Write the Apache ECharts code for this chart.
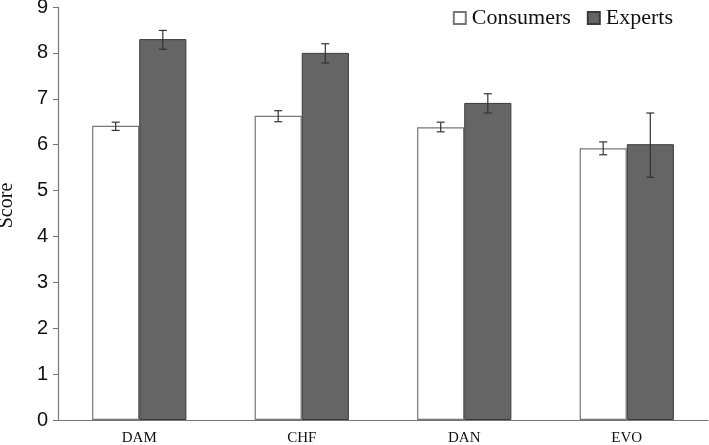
<!DOCTYPE html>
<html>
<head>
<meta charset="utf-8">
<script src="https://cdn.jsdelivr.net/npm/echarts@6/dist/echarts.min.js"></script>
<style>
html, body { margin: 0; padding: 0; background: #fff; }
#chart { width: 709px; height: 445px; }
</style>
</head>
<body>
<div id="chart"></div>
<script>
// data
const categories = ['DAM', 'CHF', 'DAN', 'EVO']
const consumers = [6.41, 6.63, 6.38, 5.92]
const consumersLow = [6.31, 6.50, 6.28, 5.78]
const consumersHigh = [6.49, 6.74, 6.49, 6.06]
const experts = [8.30, 8.00, 6.91, 6.01]
const expertsLow = [8.08, 7.78, 6.69, 5.29]
const expertsHigh = [8.49, 8.20, 7.11, 6.69]
const yTicks = [0, 1, 2, 3, 4, 5, 6, 7, 8, 9]

const chart = echarts.init(document.getElementById('chart'))

const barRatio = 0.29

// error bar drawer, side = -1 for left bar, +1 for right bar
function errorBar(side) {
  return function (params, api) {
    const idx = api.value(0)
    const lo = api.coord([idx, api.value(1)])
    const hi = api.coord([idx, api.value(2)])
    const band = api.size([1, 0])[0]
    const x = lo[0] + side * band * barRatio / 2
    const cap = 4
    const style = { stroke: '#333', lineWidth: 1.2 }
    return {
      type: 'group',
      children: [
        { type: 'line', shape: { x1: x, y1: lo[1], x2: x, y2: hi[1] }, style },
        { type: 'line', shape: { x1: x - cap, y1: lo[1], x2: x + cap, y2: lo[1] }, style },
        { type: 'line', shape: { x1: x - cap, y1: hi[1], x2: x + cap, y2: hi[1] }, style }
      ]
    }
  }
}

chart.setOption({
  animation: false,
  grid: { left: 58, right: 1, top: 7, bottom: 25, outerBoundsMode: 'none' },
  legend: {
    right: 31,
    top: 2,
    itemWidth: 12,
    itemHeight: 12,
    itemGap: 16,
    icon: 'rect',
    textStyle: { fontFamily: 'Liberation Serif', fontSize: 22, color: '#111', padding: [0, 0, 0, 1] },
    data: ['Consumers', 'Experts']
  },
  xAxis: {
    type: 'category',
    data: categories,
    axisLine: { lineStyle: { color: '#777', width: 1.2 } },
    axisTick: { length: 5, lineStyle: { color: '#777' } },
    axisLabel: { fontFamily: 'Liberation Serif', fontSize: 15, color: '#111', margin: 11 }
  },
  yAxis: {
    type: 'value',
    min: 0,
    max: 9,
    interval: 1,
    name: 'Score',
    nameLocation: 'middle',
    nameGap: 41,
    nameTextStyle: { fontFamily: 'Liberation Serif', fontSize: 20, color: '#111', padding: [0, 0, 0, 16] },
    axisLine: { show: true, lineStyle: { color: '#777', width: 1.2 } },
    axisTick: { show: true, length: 5, lineStyle: { color: '#777' } },
    axisLabel: {
      fontFamily: 'Liberation Sans', fontSize: 20, color: '#111', margin: 10,
      formatter: v => yTicks.includes(v) ? String(v) : ''
    },
    splitLine: { show: false }
  },
  series: [
    {
      name: 'Consumers',
      type: 'bar',
      data: consumers,
      barWidth: (barRatio * 100) + '%',
      barGap: '0%',
      itemStyle: { color: '#fff', borderColor: '#777', borderWidth: 1.2 }
    },
    {
      name: 'Experts',
      type: 'bar',
      data: experts,
      barWidth: (barRatio * 100) + '%',
      barGap: '0%',
      itemStyle: { color: '#656565', borderColor: '#3a3a3a', borderWidth: 1 }
    },
    {
      type: 'custom',
      renderItem: errorBar(-1),
      data: categories.map((c, i) => [i, consumersLow[i], consumersHigh[i]]),
      z: 10
    },
    {
      type: 'custom',
      renderItem: errorBar(1),
      data: categories.map((c, i) => [i, expertsLow[i], expertsHigh[i]]),
      z: 10
    }
  ]
})
</script>
</body>
</html>
